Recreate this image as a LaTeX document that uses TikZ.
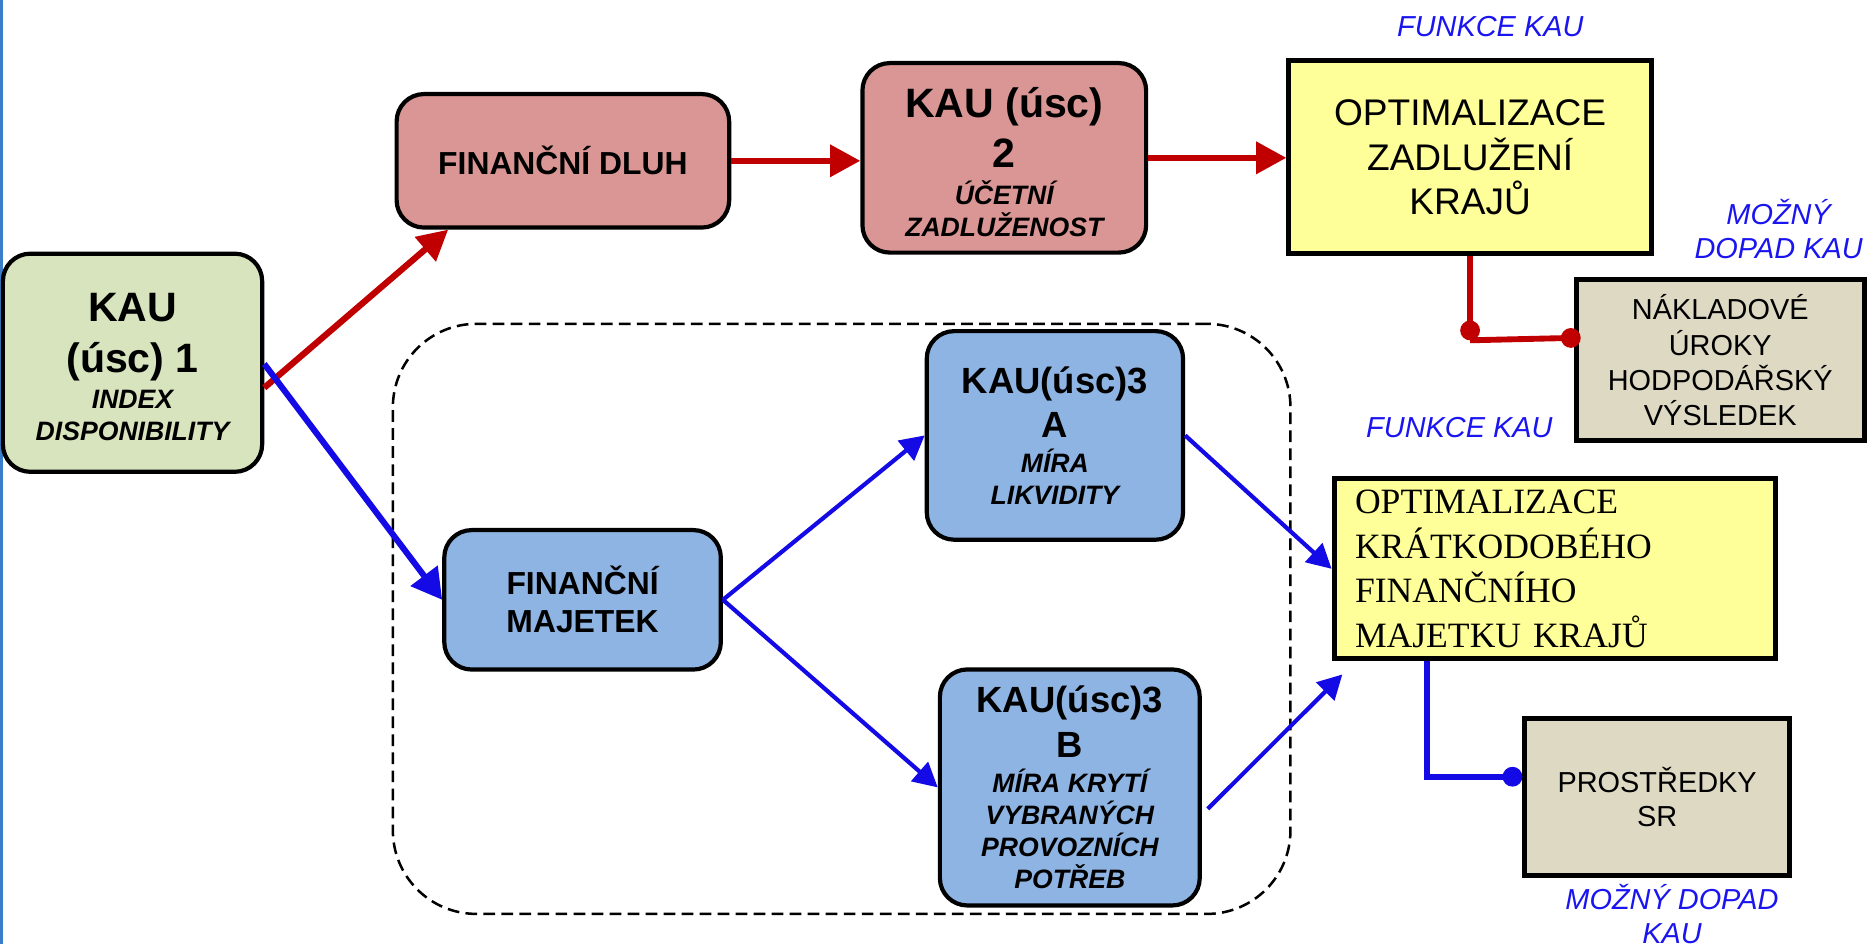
\documentclass[tikz,border=0pt]{standalone}
\usepackage{fontspec}
\setmainfont{Liberation Sans}
\newfontfamily\timesfont{Liberation Serif}
\usepackage{tikz}
\usetikzlibrary{positioning, arrows.meta, calc}
\definecolor{kred}{RGB}{192,0,0}
\definecolor{kblueline}{RGB}{20,10,230}
\definecolor{klbl}{RGB}{25,20,240}
\definecolor{kedge}{RGB}{58,125,200}
\definecolor{kgreen}{RGB}{215,228,189}
\definecolor{kpink}{RGB}{217,150,148}
\definecolor{kblue}{RGB}{142,180,227}
\definecolor{kyellow}{RGB}{255,255,153}
\definecolor{ktan}{RGB}{221,217,195}
\newcommand{\subtxt}{\fontsize{6.35}{7.55}\selectfont\bfseries\itshape}

\begin{document}
\begin{tikzpicture}[
      x=0.01cm, y=-0.01cm,
      every node/.style={font=\fontsize{7.6}{9.1}\selectfont},
      rbox/.style={draw, line width=1pt, rounded corners=0.23cm, align=center, inner sep=0pt},
      kaubox/.style={rbox, font=\fontsize{9.8}{11.95}\selectfont\bfseries},
      kauthree/.style={rbox, fill=kblue, font=\fontsize{8.7}{10.67}\selectfont\bfseries},
      midbox/.style={rbox, font=\fontsize{7.6}{9.1}\selectfont\bfseries},
      optbox/.style={draw, line width=1.2pt, fill=kyellow, align=center, inner sep=0pt, font=\fontsize{8.85}{10.6}\selectfont},
      opttimes/.style={draw, line width=1.2pt, fill=kyellow, align=left, text width=3.35cm, inner xsep=0.175cm, inner ysep=0pt, font=\timesfont\fontsize{8.5}{10.7}\selectfont},
      tanbox/.style={draw, line width=1.2pt, fill=ktan, align=center, inner sep=0pt, font=\fontsize{6.9}{8.4}\selectfont},
      lbl/.style={text=klbl, align=center, inner sep=0pt, font=\fontsize{6.9}{8.2}\selectfont\itshape},
      grp/.style={draw, dashed, dash pattern=on 2.8pt off 1.5pt, line width=0.6pt, rounded corners=0.7cm, minimum width=7.53cm, minimum height=4.95cm},
      rarr/.style={kred, line width=1.5pt, -{Triangle[length=7.2pt, width=7.4pt]}},
      barr/.style={kblueline, line width=1.45pt, -{Triangle[length=7.2pt, width=7.8pt]}},
      barrthin/.style={kblueline, line width=1pt, -{Triangle[length=5.8pt, width=6pt]}},
      rcon/.style={kred, line width=1.4pt, -{Circle[length=4.7pt]}},
      bcon/.style={kblueline, line width=1.4pt, -{Circle[length=4.7pt]}},
  ]
    \useasboundingbox (0,0) rectangle (1568,792);
    \draw[kedge, line width=0.7pt] (1.25,0) -- (1.25,792);

    % group of the asset branch
    \node[grp] (finbox) at (706.5,519.5) {};

    \node[kaubox, fill=kgreen, minimum width=2.175cm, minimum height=1.83cm] (kau1) at (111.25,304.5) {\rule{0pt}{8.9pt}KAU\\(úsc) 1\\[-3.15pt]{\subtxt INDEX}\\[-4.4pt]{\subtxt DISPONIBILITY}};

    \node[midbox, fill=kpink, minimum width=2.79cm, minimum height=1.12cm] (dluh) at (472.5,135) {FINANČNÍ DLUH};
    \node[kaubox, fill=kpink, minimum width=2.38cm, minimum height=1.59cm] (kau2) at (843,132.5) {\rule{0pt}{9.1pt}KAU (úsc)\\2\\[-3.15pt]{\subtxt ÚČETNÍ}\\[-4.4pt]{\subtxt ZADLUŽENOST}};
    \node[optbox, minimum width=3.04cm, minimum height=1.62cm] (opt1) at (1234,132) {OPTIMALIZACE\\ZADLUŽENÍ\\KRAJŮ};
    \node[tanbox, minimum width=2.42cm, minimum height=1.35cm] (tan1) at (1444,302.5) {NÁKLADOVÉ\\ÚROKY\\HODPODÁŘSKÝ\\VÝSLEDEK};

    \node[midbox, fill=kblue, minimum width=2.32cm, minimum height=1.17cm] (majetek) at (489,503.5) {FINANČNÍ\\MAJETEK};
    \node[kauthree, minimum width=2.15cm, minimum height=1.75cm] (kau3a) at (885.5,365.5) {KAU(úsc)3\\A\\[-2.4pt]{\subtxt MÍRA}\\[-3pt]{\subtxt LIKVIDITY}};
    \node[kauthree, minimum width=2.18cm, minimum height=1.98cm] (kau3b) at (898,661) {KAU(úsc)3\\B\\[-2.4pt]{\subtxt MÍRA KRYTÍ}\\[-3pt]{\subtxt VYBRANÝCH}\\[-3pt]{\subtxt PROVOZNÍCH}\\[-3pt]{\subtxt POTŘEB}};

    \node[opttimes, minimum height=1.51cm] (opt2) at (1305,477.5) {OPTIMALIZACE\\KRÁTKODOBÉHO\\FINANČNÍHO\\MAJETKU KRAJŮ};
    \node[tanbox, minimum width=2.22cm, minimum height=1.32cm, font=\fontsize{6.9}{8.05}\selectfont] (tan2) at (1391,669) {PROSTŘEDKY\\SR};

    \node[lbl] (fce1) at (1251,22) {FUNKCE KAU};
    \node[lbl] (dopad1) at (1493,192) {MOŽNÝ\\DOPAD KAU};
    \node[lbl] (fce2) at (1225,359) {FUNKCE KAU};
    \node[lbl] (dopad2) at (1403.5,767) {MOŽNÝ DOPAD\\KAU};

    % debt branch
    \draw[rarr] ($(kau1.east)+(0,21)$) -- ($(dluh.south west)+(45,0)$);
    \draw[rarr] (dluh.east) -- (dluh.east -| kau2.west);
    \draw[rarr] (kau2.east) -- (kau2.east -| opt1.west);
    \draw[rcon] (opt1.south) -- ++(0,70.5);
    \draw[rcon] ($(opt1.south)+(0,70.5)$) -- ($(tan1.west)+(6,-19)$);

    % asset branch
    \draw[barr] ($(kau1.east)+(0,1)$) -- (majetek.west);
    \draw[barrthin] (majetek.east) -- (kau3a.west);
    \draw[barrthin] (majetek.east) -- (kau3b.west);
    \draw[barrthin] (kau3a.east) -- (opt2.west);
    \draw[barrthin] ($(kau3b.east)+(5,18)$) -- ($(opt2.south west)+(9,11)$);
    \draw[bcon] ($(opt2.south west)+(80,0)$) |- ($(tan2.west)+(0,-17)$);
  \end{tikzpicture}
\end{document}
